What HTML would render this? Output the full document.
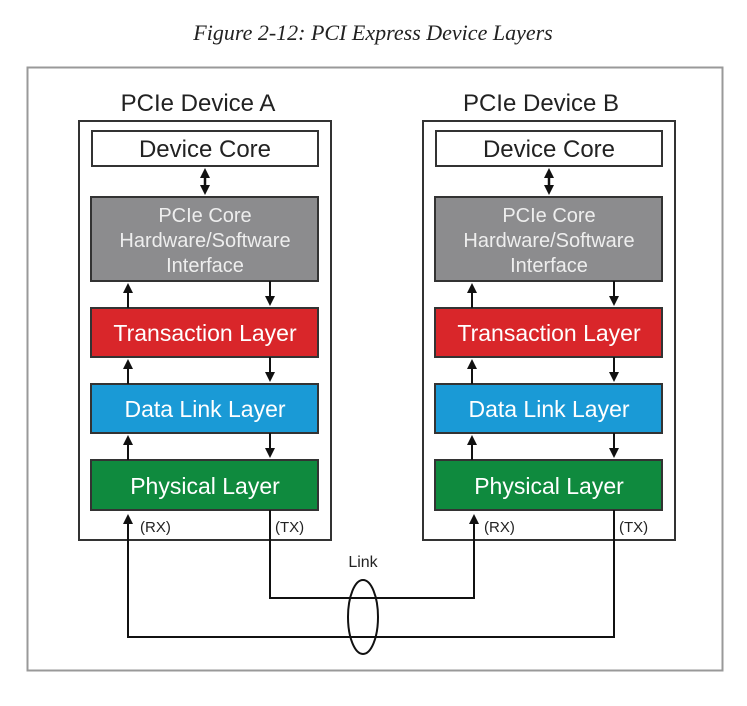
<!DOCTYPE html>
<html><head><style>body{margin:0;background:#fff}</style></head><body>
<svg width="747" height="701" xmlns="http://www.w3.org/2000/svg" font-family="Liberation Sans, sans-serif">
<defs><marker id="a" markerWidth="10" markerHeight="10" refX="5" refY="5" orient="auto-start-reverse" markerUnits="userSpaceOnUse"><path d="M0,0 L10,5 L0,10 z" fill="#111"/></marker></defs>
<text x="373" y="40" text-anchor="middle" font-family="Liberation Serif, serif" font-style="italic" font-size="22" fill="#222">Figure 2-12: PCI Express Device Layers</text>
<rect x="27.5" y="67.5" width="695" height="603" fill="none" stroke="#999" stroke-width="2"/>
<g id="dev">
<text x="198" y="111" text-anchor="middle" font-size="24" fill="#222">PCIe Device A</text>
<rect x="79" y="121" width="252" height="419" fill="none" stroke="#333" stroke-width="2"/>
<rect x="92" y="131" width="226" height="35" fill="#fff" stroke="#333" stroke-width="2"/>
<text x="205" y="157" text-anchor="middle" font-size="24" fill="#222">Device Core</text>
<rect x="91" y="197" width="227" height="84" fill="#8c8c8e" stroke="#333" stroke-width="2"/>
<text x="205" y="222" text-anchor="middle" font-size="20" fill="#eee">PCIe Core</text>
<text x="205" y="247" text-anchor="middle" font-size="20" fill="#eee">Hardware/Software</text>
<text x="205" y="272" text-anchor="middle" font-size="20" fill="#eee">Interface</text>
<rect x="91" y="308" width="227" height="49" fill="#d9262a" stroke="#333" stroke-width="2"/>
<text x="205" y="341" text-anchor="middle" font-size="23" fill="#fff">Transaction Layer</text>
<rect x="91" y="384" width="227" height="49" fill="#1a9ad6" stroke="#333" stroke-width="2"/>
<text x="205" y="417" text-anchor="middle" font-size="23" fill="#fff">Data Link Layer</text>
<rect x="91" y="460" width="227" height="50" fill="#0f8a3e" stroke="#333" stroke-width="2"/>
<text x="205" y="494" text-anchor="middle" font-size="23" fill="#fff">Physical Layer</text>
<line x1="205" y1="173" x2="205" y2="190" stroke="#111" stroke-width="2.5" marker-start="url(#a)" marker-end="url(#a)"/>
<g stroke="#111" stroke-width="2">
<line x1="128" y1="308" x2="128" y2="288" marker-end="url(#a)"/>
<line x1="270" y1="281" x2="270" y2="301" marker-end="url(#a)"/>
<line x1="128" y1="384" x2="128" y2="364" marker-end="url(#a)"/>
<line x1="270" y1="357" x2="270" y2="377" marker-end="url(#a)"/>
<line x1="128" y1="460" x2="128" y2="440" marker-end="url(#a)"/>
<line x1="270" y1="433" x2="270" y2="453" marker-end="url(#a)"/>
</g>
<text x="140" y="532" font-size="15" fill="#222">(RX)</text>
<text x="275" y="532" font-size="15" fill="#222">(TX)</text>
</g>
<use href="#dev" transform="translate(344,0)"/>
<rect x="430" y="88" width="220" height="30" fill="#fff"/>
<text x="541" y="111" text-anchor="middle" font-size="24" fill="#222">PCIe Device B</text>
<g fill="none" stroke="#111" stroke-width="2">
<polyline points="614,510 614,637 128,637 128,519" marker-end="url(#a)"/>
<polyline points="270,510 270,598 474,598 474,519" marker-end="url(#a)"/>
<ellipse cx="363" cy="617" rx="15" ry="37"/>
</g>
<text x="363" y="567" text-anchor="middle" font-size="16" fill="#222">Link</text>
</svg>
</body></html>
